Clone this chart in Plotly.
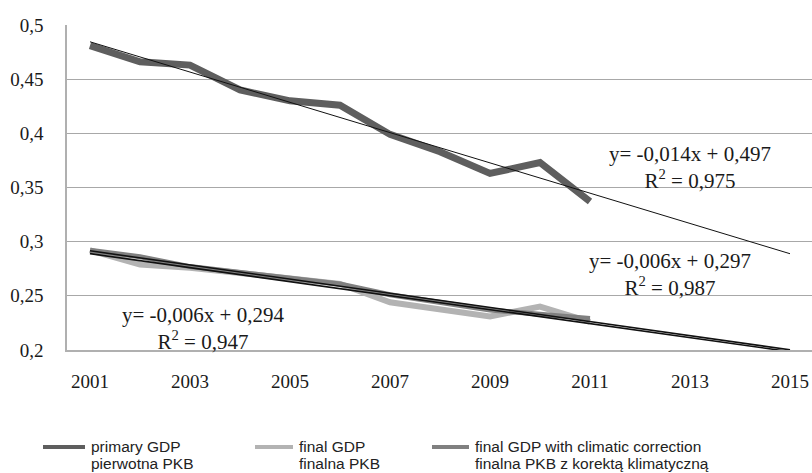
import numpy as np
import plotly.graph_objects as go

# Energy intensity series, 2001-2011
years = [2001, 2002, 2003, 2004, 2005, 2006, 2007, 2008, 2009, 2010, 2011]
primary_gdp = [0.481, 0.466, 0.463, 0.440, 0.430, 0.426, 0.399, 0.383, 0.363, 0.373, 0.337]
final_gdp = [0.292, 0.279, 0.276, 0.271, 0.266, 0.261, 0.244, 0.237, 0.231, 0.240, 0.226]
final_gdp_climatic = [0.292, 0.286, 0.277, 0.272, 0.266, 0.261, 0.251, 0.244, 0.237, 0.233, 0.229]

# Bilingual series captions (English / Polish)
series_names_en = ["primary GDP", "final GDP", "final GDP with climatic correction"]
series_names_pl = ["pierwotna PKB", "finalna PKB", "finalna PKB z korektą klimatyczną"]

# Trend equations as printed next to each fitted line
trend_labels = [
    ("y= -0,014x + 0,497", "R<sup>2</sup> = 0,975"),
    ("y= -0,006x + 0,294", "R<sup>2</sup> = 0,947"),
    ("y= -0,006x + 0,297", "R<sup>2</sup> = 0,987"),
]

x_ticks = [2001, 2003, 2005, 2007, 2009, 2011, 2013, 2015]
y_ticks = [0.2, 0.25, 0.3, 0.35, 0.4, 0.45, 0.5]
y_tick_text = ["0,2", "0,25", "0,3", "0,35", "0,4", "0,45", "0,5"]

forecast_end = 2015

serif = "Liberation Serif, Times New Roman, serif"
sans = "Liberation Sans, Arial, sans-serif"

W, H = 812, 473
M_L, M_R, M_T, M_B = 67, 0, 25, 123
plot_w = W - M_L - M_R
plot_h = H - M_T - M_B


def px_to_paper_x(px):
    return (px - M_L) / plot_w


def px_to_paper_y(py):
    return (H - M_B - py) / plot_h


def linear_trend(xs, ys, end):
    """Least-squares line over period index (1 = first year), extended to `end`."""
    idx = np.array(xs) - (xs[0] - 1)
    slope, intercept = np.polyfit(idx, np.array(ys), 1)
    tx = np.array([xs[0], end])
    return tx, intercept + slope * (tx - (xs[0] - 1))


styles = [
    dict(color="#5e5e5e", width=7),   # primary GDP
    dict(color="#b3b3b3", width=6),   # final GDP
    dict(color="#808080", width=5),   # final GDP, climate corrected
]
data = [primary_gdp, final_gdp, final_gdp_climatic]

fig = go.Figure()

for i in (1, 2, 0):
    fig.add_trace(go.Scatter(
        x=years, y=data[i], mode="lines",
        name=f"{series_names_en[i]} / {series_names_pl[i]}",
        line=dict(**styles[i]), showlegend=False,
    ))

# Linear trend lines drawn on top of the data
for ys, w in [(primary_gdp, 1), (final_gdp, 1.6), (final_gdp_climatic, 1.6)]:
    tx, ty = linear_trend(years, ys, forecast_end)
    fig.add_trace(go.Scatter(
        x=tx, y=ty, mode="lines", showlegend=False, hoverinfo="skip",
        line=dict(color="#111111", width=w),
    ))

label_pos = [(2013.0, 0.3935), (2003.25, 0.2449), (2012.6, 0.2952)]
for (eq, r2), (lx, ly) in zip(trend_labels, label_pos):
    fig.add_annotation(
        x=lx, y=ly, text=eq + "<br>" + r2, showarrow=False,
        font=dict(family=serif, size=21, color="#1a1a1a"),
        align="center", xanchor="center", yanchor="top",
    )

# Legend row below the plot: line sample + two-line caption per series
legend_left = [43, 255, 432]
legend_sample_len = [42, 38, 37]
legend_y = 446
line_step = 17
for i, (lx, ll) in enumerate(zip(legend_left, legend_sample_len)):
    fig.add_shape(
        type="line", xref="paper", yref="paper",
        x0=px_to_paper_x(lx), x1=px_to_paper_x(lx + ll),
        y0=px_to_paper_y(legend_y + 1), y1=px_to_paper_y(legend_y + 1),
        line=dict(color=styles[i]["color"], width=4),
    )
    for k, txt in enumerate([series_names_en[i], series_names_pl[i]]):
        fig.add_annotation(
            xref="paper", yref="paper",
            x=px_to_paper_x(lx + ll + 4), y=px_to_paper_y(legend_y + k * line_step),
            text=txt, showarrow=False, align="left",
            xanchor="left", yanchor="middle",
            font=dict(family=sans, size=15.5, color="#222222"),
        )

fig.update_xaxes(
    range=[2000.54, 2015.44], tickvals=x_ticks,
    ticktext=[str(v) for v in x_ticks],
    showgrid=False, zeroline=False,
    showline=True, linecolor="#b0b0b0", linewidth=1.5,
    ticks="", ticklabelstandoff=13,
    tickfont=dict(family=serif, size=19, color="#1a1a1a"),
)
fig.update_yaxes(
    range=[0.2, 0.5], tickvals=y_ticks, ticktext=y_tick_text,
    showgrid=True, gridcolor="#a8a8a8", gridwidth=1, zeroline=False,
    showline=True, linecolor="#b0b0b0", linewidth=1.5,
    ticks="", ticklabelstandoff=18,
    tickfont=dict(family=serif, size=19, color="#1a1a1a"),
)

fig.update_layout(
    width=W, height=H,
    margin=dict(l=M_L, r=M_R, t=M_T, b=M_B, autoexpand=False),
    paper_bgcolor="white", plot_bgcolor="white",
    showlegend=False,
)

fig.write_html("out.html")
